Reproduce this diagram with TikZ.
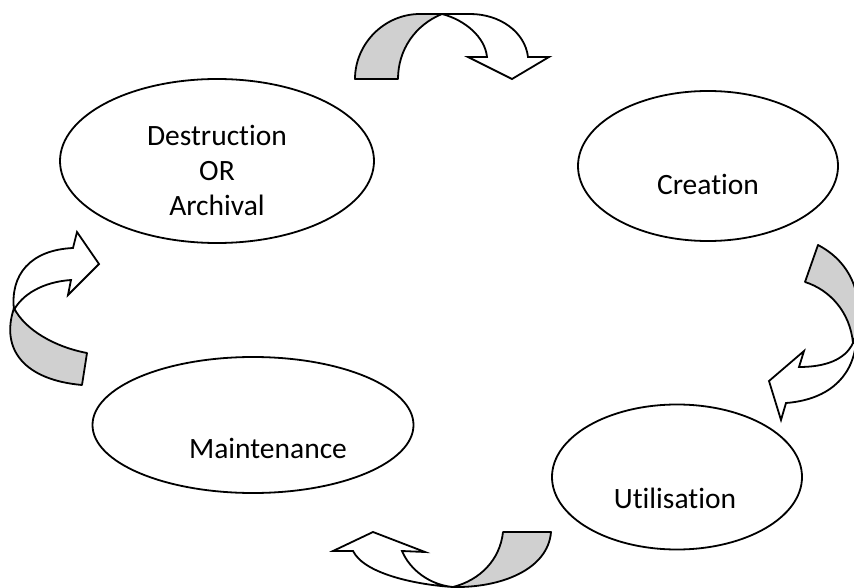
\documentclass[tikz,border=0pt]{standalone}
\usepackage{fontspec}
\setmainfont{Carlito}[Ligatures=NoCommon]
\usetikzlibrary{shapes.geometric}
\definecolor{backgray}{RGB}{208,208,208}

\begin{document}
\begin{tikzpicture}[x=1bp, y=-1bp, line width=1.8bp]
      \tikzstyle{every node}=[font=\fontsize{29.5bp}{35bp}\selectfont]
      \tikzstyle{stage}=[draw, ellipse, inner sep=0pt]
      \tikzstyle{stagetext}=[draw=none, align=center, inner sep=0pt]
      \tikzstyle{band}=[draw, fill=backgray, line join=round]
      \tikzstyle{front}=[draw, fill=white, line join=miter]
      %%
  \useasboundingbox (0,0) rectangle (854,588);
  \clip (0,0) rectangle (854,588);
  \node (v_destr) at (217,161) [stage, minimum width=314bp, minimum height=164bp] {};
  \node (v_create) at (708,166) [stage, minimum width=260bp, minimum height=150bp] {};
  \node (v_util) at (677,477) [stage, minimum width=250bp, minimum height=145bp] {};
  \node (v_maint) at (253,425) [stage, minimum width=321bp, minimum height=136bp] {};
  \node (t_destr) at (217,170) [stagetext] {Destruction\\OR\\Archival};
  \node (t_create) at (708,184) [stagetext] {Creation};
  \node (t_util) at (675,498) [stagetext] {Utilisation};
  \node (t_maint) at (268,448) [stagetext] {Maintenance};
  % top: destruction -> creation
  \draw [band] (355,79) -- (398,79) ..controls (398,50) and (415,25) .. (442,14) -- (420,14) ..controls (384,14) and (355,44) .. cycle;
  \draw [front] (442,14) ..controls (465,20) and (485,37) .. (487,57) -- (468,57) -- (512,79) -- (549,57) -- (528,57) ..controls (525,32) and (500,14) .. (470,14) -- cycle;
  % right: creation -> utilisation
  \draw [band] (818,245) -- (805,282) ..controls (830,290) and (850,312) .. (853,343) ..controls (864,315) and (862,268) .. cycle;
  \draw [front] (853,343) ..controls (845,360) and (825,367) .. (799,367) -- (804,351) -- (769,381) -- (781,420) -- (786,403) ..controls (825,400) and (852,380) .. (856,343) -- cycle;
  % bottom: utilisation -> maintenance
  \draw [band] (503,532) -- (551,532) ..controls (548,570) and (500,588) .. (453,587) ..controls (480,580) and (500,560) .. cycle;
  \draw [front] (453,587) ..controls (420,585) and (365,575) .. (353,551) -- (333,551) -- (373,532) -- (425,552) -- (402,551) ..controls (410,570) and (430,585) .. cycle;
  % left: maintenance -> destruction
  \draw [band] (14,308) ..controls (0,350) and (25,380) .. (82,385) -- (87,353) ..controls (55,347) and (25,330) .. cycle;
  \draw [front] (14,310) ..controls (10,275) and (30,250) .. (73,248) -- (77,232) -- (99,264) -- (68,295) -- (71,280) ..controls (42,282) and (22,295) .. cycle;
%
\end{tikzpicture}
\end{document}
